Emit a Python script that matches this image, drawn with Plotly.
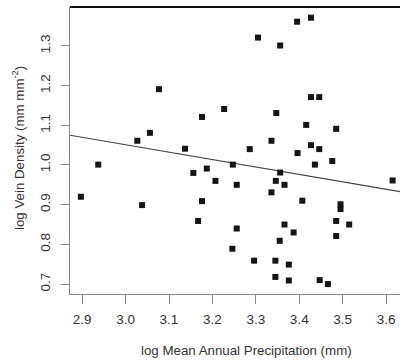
import plotly.graph_objects as go

# log Mean Annual Precipitation (mm)
precip = [2.897, 2.937, 3.038, 3.027, 3.056, 3.077, 3.137, 3.156, 3.167, 3.176,
          3.176, 3.187, 3.207, 3.227, 3.246, 3.247, 3.256, 3.256, 3.286, 3.296,
          3.305, 3.336, 3.336, 3.345, 3.345, 3.346, 3.347, 3.355, 3.356, 3.356,
          3.366, 3.366, 3.376, 3.376, 3.387, 3.395, 3.396, 3.407, 3.416, 3.427,
          3.427, 3.427, 3.436, 3.446, 3.446, 3.447, 3.466, 3.476, 3.485, 3.485,
          3.485, 3.495, 3.495, 3.515, 3.615]
# log Vein Density
vein = [0.920, 1.001, 0.899, 1.061, 1.081, 1.191, 1.041, 0.980, 0.859, 1.121,
        0.909, 0.991, 0.960, 1.141, 0.789, 1.001, 0.950, 0.840, 1.040, 0.759,
        1.321, 1.061, 0.931, 0.759, 0.718, 0.960, 1.131, 0.809, 1.301, 0.981,
        0.950, 0.850, 0.749, 0.709, 0.830, 1.361, 1.030, 0.910, 1.101, 1.371,
        1.171, 1.050, 1.001, 1.171, 1.040, 0.710, 0.700, 1.010, 1.091, 0.859,
        0.821, 0.901, 0.889, 0.850, 0.961]

# regression line
intercept = 1.612
slope = -0.187

x_ticks = [2.9, 3.0, 3.1, 3.2, 3.3, 3.4, 3.5, 3.6]
y_ticks = [0.7, 0.8, 0.9, 1.0, 1.1, 1.2, 1.3]

x_range = [2.872, 3.632]
y_range = [0.675, 1.398]

font = "Liberation Sans, Arial, sans-serif"
txt = "#333333"
axc = "#8a8a8a"

fig = go.Figure()
fig.add_trace(go.Scatter(
    x=x_range, y=[intercept + slope * v for v in x_range],
    mode="lines", line=dict(color="#444444", width=1.2),
    hoverinfo="skip", showlegend=False))
fig.add_trace(go.Scatter(
    x=precip, y=vein, mode="markers",
    marker=dict(symbol="square", size=6, color="#151515",
                line=dict(width=0)),
    showlegend=False))

fig.update_layout(
    width=400, height=360,
    margin=dict(l=70, r=0, t=7, b=66),
    paper_bgcolor="white", plot_bgcolor="white",
    font=dict(family=font, size=13.5, color=txt),
    xaxis=dict(range=x_range, tickvals=x_ticks, tickformat=".1f",
               ticks="outside", ticklen=9, tickcolor=axc, tickwidth=1,
               showline=True, linecolor=axc, linewidth=1,
               showgrid=False, zeroline=False, ticklabelstandoff=4),
    yaxis=dict(range=y_range, tickvals=y_ticks, tickformat=".1f",
               ticks="outside", ticklen=8, tickcolor=axc, tickwidth=1,
               showline=True, linecolor=axc, linewidth=1, tickangle=-90,
               showgrid=False, zeroline=False, ticklabelstandoff=6),
    shapes=[dict(type="line", xref="paper", yref="paper", x0=0, x1=1, y0=1, y1=1,
                 line=dict(color="#111111", width=1.8))],
    annotations=[
        dict(text="log Mean Annual Precipitation (mm)", xref="paper", yref="paper",
             x=(246 - 70) / 330, y=-(350 - 294) / 287, xanchor="center", yanchor="middle",
             showarrow=False, font=dict(size=13.3, color=txt)),
        dict(text="log Vein Density (mm mm<sup>-2</sup>)", xref="paper", yref="paper",
             x=-(70 - 18) / 330, y=(294 - 148) / 287, xanchor="center", yanchor="middle",
             textangle=-90, showarrow=False, font=dict(size=13.3, color=txt)),
    ],
)

fig.write_html("out.html", config={"displayModeBar": False},
               post_script="document.body.style.margin='0px';document.body.style.overflow='hidden';")
